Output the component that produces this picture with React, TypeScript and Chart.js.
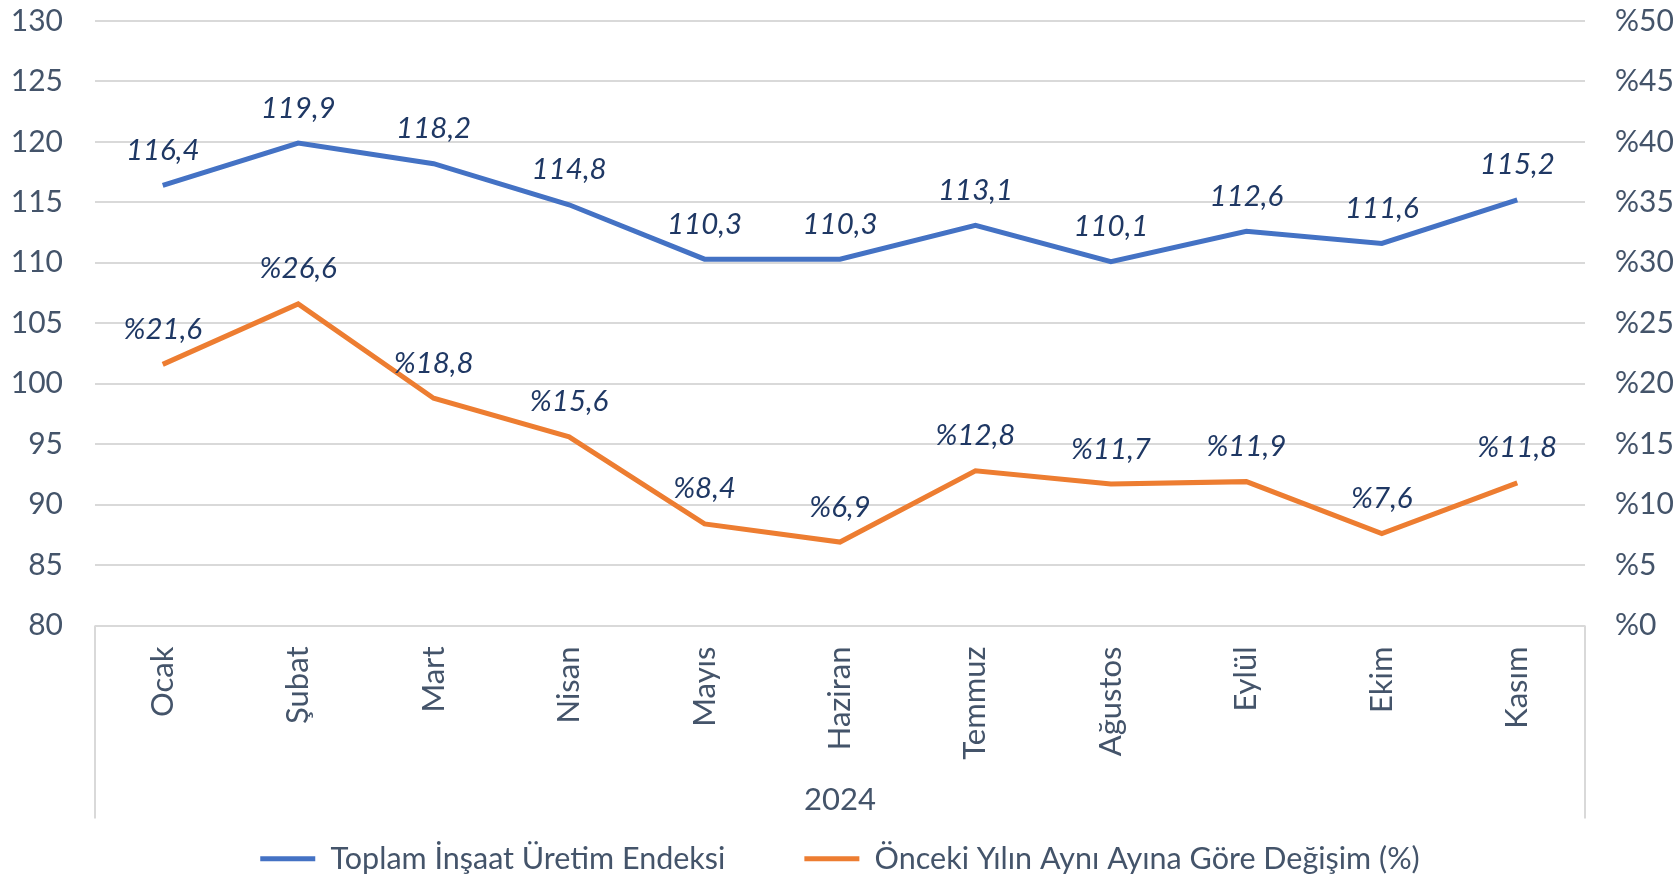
import React, { useEffect, useRef } from 'react';
import { Chart, registerables } from 'chart.js';

Chart.register(...registerables);

const months = ['Ocak', 'Şubat', 'Mart', 'Nisan', 'Mayıs', 'Haziran', 'Temmuz', 'Ağustos', 'Eylül', 'Ekim', 'Kasım'];
const indexValues = [116.4, 119.9, 118.2, 114.8, 110.3, 110.3, 113.1, 110.1, 112.6, 111.6, 115.2];
const changeValues = [21.6, 26.6, 18.8, 15.6, 8.4, 6.9, 12.8, 11.7, 11.9, 7.6, 11.8];
const yearLabel = '2024';
const seriesNames = ['Toplam İnşaat Üretim Endeksi', 'Önceki Yılın Aynı Ayına Göre Değişim (%)'];

const FONT = 'Lato';
const TICK_COLOR = '#44546A';
const LABEL_COLOR = '#1F3864';
const BLUE = '#4472C4';
const ORANGE = '#ED7D31';

const fmt = (v: number) => v.toFixed(1).replace('.', ',');

const overlayPlugin = {
  id: 'overlay',
  afterDatasetsDraw(chart: any) {
    const { ctx } = chart;
    ctx.save();
    ctx.font = `italic 29.5px ${FONT}`;
    ctx.fillStyle = LABEL_COLOR;
    ctx.textAlign = 'center';
    ctx.textBaseline = 'middle';
    chart.data.datasets.forEach((ds: any, di: number) => {
      const meta = chart.getDatasetMeta(di);
      meta.data.forEach((pt: any, i: number) => {
        const v = ds.data[i];
        const txt = di === 1 ? '%' + fmt(v) : fmt(v);
        ctx.fillText(txt, pt.x, pt.y - 35);
      });
    });
    ctx.restore();
  },
  afterDraw(chart: any) {
    const { ctx, chartArea } = chart;
    ctx.save();
    ctx.strokeStyle = '#D9D9D9';
    ctx.lineWidth = 2;
    const bottom = chartArea.bottom + 193;
    [chartArea.left, chartArea.right].forEach((x: number) => {
      ctx.beginPath();
      ctx.moveTo(x, chartArea.bottom);
      ctx.lineTo(x, bottom);
      ctx.stroke();
    });
    ctx.restore();
  },
};

export default function App() {
  const ref = useRef<HTMLCanvasElement | null>(null);
  useEffect(() => {
    document.body.style.margin = '0';
    const chart = new Chart(ref.current as HTMLCanvasElement, {
      type: 'line',
      data: {
        labels: months,
        datasets: [
          {
            label: seriesNames[0],
            data: indexValues,
            borderColor: BLUE,
            backgroundColor: BLUE,
            borderWidth: 5,
            pointRadius: 0,
            yAxisID: 'y',
            tension: 0,
          },
          {
            label: seriesNames[1],
            data: changeValues,
            borderColor: ORANGE,
            backgroundColor: ORANGE,
            borderWidth: 5,
            pointRadius: 0,
            yAxisID: 'y1',
            tension: 0,
          },
        ],
      },
      options: {
        animation: false,
        responsive: false,
        maintainAspectRatio: false,
        layout: { padding: { top: 21, bottom: -5, left: 0, right: 0 } },
        plugins: {
          tooltip: { enabled: false },
          legend: {
            position: 'bottom',
            labels: {
              usePointStyle: true,
              pointStyle: 'line',
              pointStyleWidth: 55,
              padding: 79,
              color: TICK_COLOR,
              font: { family: FONT, size: 30.5 },
            },
          },
        },
        scales: {
          x: {
            offset: true,
            grid: { display: false, drawTicks: false },
            border: { display: false },
            ticks: {
              autoSkip: false,
              minRotation: 90,
              maxRotation: 90,
              padding: 21,
              color: TICK_COLOR,
              font: { family: FONT, size: 31 },
            },
            title: {
              display: true,
              text: yearLabel,
              color: TICK_COLOR,
              font: { family: FONT, size: 31 },
              padding: { top: 0, bottom: -54 },
            },
            afterFit(scale: any) {
              scale.height = 139;
            },
          },
          y: {
            position: 'left',
            min: 80,
            max: 130,
            ticks: {
              stepSize: 5,
              padding: 2,
              color: TICK_COLOR,
              font: { family: FONT, size: 30 },
            },
            grid: { color: '#D9D9D9', lineWidth: 2, drawTicks: true, tickLength: 30, tickColor: 'rgba(0,0,0,0)' },
            border: { display: false },
            afterFit(scale: any) {
              scale.width = 95;
            },
          },
          y1: {
            position: 'right',
            min: 0,
            max: 50,
            ticks: {
              stepSize: 5,
              padding: 2,
              color: TICK_COLOR,
              font: { family: FONT, size: 30 },
              callback: (v: any) => '%' + v,
            },
            grid: { display: true, drawOnChartArea: false, drawTicks: true, tickLength: 28, color: 'rgba(0,0,0,0)', tickColor: 'rgba(0,0,0,0)' },
            border: { display: false },
            afterFit(scale: any) {
              scale.width = 95;
            },
          },
        },
      },
      plugins: [overlayPlugin],
    } as any);
    return () => chart.destroy();
  }, []);
  return <canvas ref={ref} width={1680} height={879} style={{ display: 'block' }} />;
}
